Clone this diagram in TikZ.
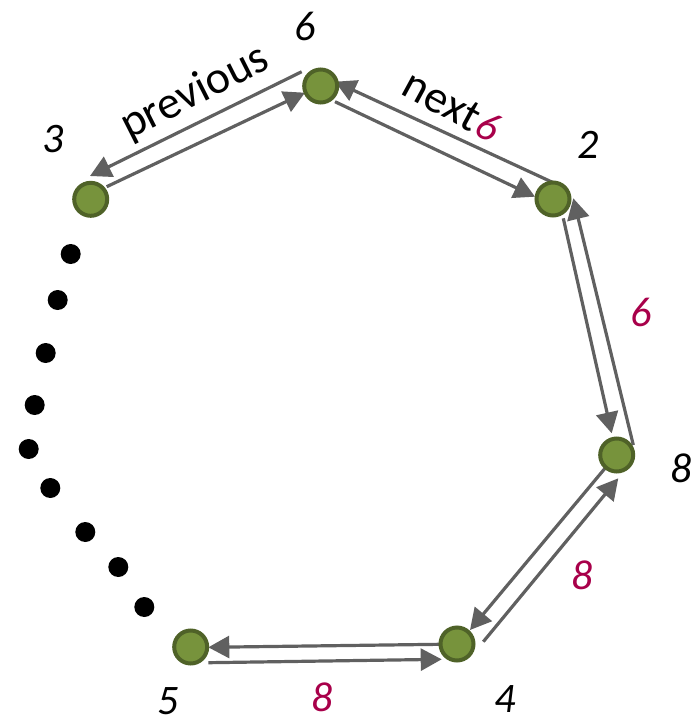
\documentclass[tikz,border=0pt]{standalone}
\usepackage{fontspec}
\setmainfont{Carlito}
\usetikzlibrary{arrows.meta,calc,backgrounds}
\definecolor{nodefill}{HTML}{77933C}
\definecolor{nodeedge}{HTML}{4F6228}
\definecolor{arrgray}{HTML}{606060}
\definecolor{numred}{HTML}{A8004A}
\tikzset{
  vert/.style={circle,fill=nodefill,draw=nodeedge,line width=4pt,minimum size=33pt,inner sep=0pt},
  arr/.style={draw=arrgray,line width=3.2pt,-{Triangle[length=21pt,width=22pt]}},
  lbl/.style={font=\fontsize{42}{50}\selectfont\itshape,text=black,inner sep=0pt},
  redlbl/.style={font=\fontsize{42}{50}\selectfont\itshape,text=numred,inner sep=0pt},
  word/.style={font=\fontsize{46}{54}\selectfont,text=black,inner sep=0pt},
  blackdot/.style={circle,fill=black,minimum size=20pt,inner sep=0pt}
}
\begin{document}
\begin{tikzpicture}[x=1pt,y=-1pt]
\useasboundingbox (0,0) rectangle (699,721);
% vertices
\node[vert] (A) at (320.7,86) {};
\node[vert] (B) at (90.7,199.3) {};
\node[vert] (C) at (553,199) {};
\node[vert] (D) at (616.7,455) {};
\node[vert] (E) at (457,644) {};
\node[vert] (F) at (190.7,647) {};
% connectors
\begin{pgfonlayer}{background}
\draw[arr] ($(A)+(-19,-14.3)$) -- ($(B)+(-0.7,-23.3)$);
\draw[arr] ($(B)+(16,-12.6)$) -- ($(A)+(-15.7,6.7)$);
\draw[arr] ($(C)+(0.3,-16.3)$) -- ($(A)+(14.3,-4.3)$);
\draw[arr] ($(A)+(14.3,15.7)$) -- ($(C)+(-18,-2.3)$);
\draw[arr] ($(C)+(10.3,19.3)$) -- ($(D)+(-5,-21.7)$);
\draw[arr] ($(D)+(16.6,-10)$) -- ($(C)+(20.3,-0.7)$);
\draw[arr] ($(D)+(-11.7,13.3)$) -- ($(E)+(13,-14)$);
\draw[arr] ($(E)+(26.3,-2.3)$) -- ($(D)+(1.6,23.3)$);
\draw[arr] ($(E)+(-17,0.3)$) -- ($(F)+(17.6,0.3)$);
\draw[arr] ($(F)+(17.6,15.7)$) -- ($(E)+(-15.3,15.3)$);
\end{pgfonlayer}
% vertex labels
\node[lbl] (lA) at (305,26) {6};
\node[lbl] (lB) at (53,139) {3};
\node[lbl] (lC) at (588,145) {2};
\node[lbl] (lD) at (681,468) {8};
\node[lbl] (lE) at (505,699) {4};
\node[lbl] (lF) at (168,701) {5};
% edge words and weights
\node[word,rotate=26.8] (wprev) at (195,93) {previous};
\node[word,rotate=-28.5] (wnext) at (452,106) {next\hspace{1pt}{\color{numred}\itshape\fontsize{42}{50}\selectfont 6}};
\node[redlbl] (wCD) at (641,312) {6};
\node[redlbl] (wDE) at (582,575) {8};
\node[redlbl] (wEF) at (322,697) {8};
% dots
\foreach \i/\p in {1/{(70.7,254)},2/{(57.7,300)},3/{(45.7,353)},4/{(34.7,405)},5/{(28.7,449)},6/{(50.3,488)},7/{(85.3,532)},8/{(118.3,567)},9/{(144.3,607)}}
  \node[blackdot] (dot\i) at \p {};
\end{tikzpicture}
\end{document}
